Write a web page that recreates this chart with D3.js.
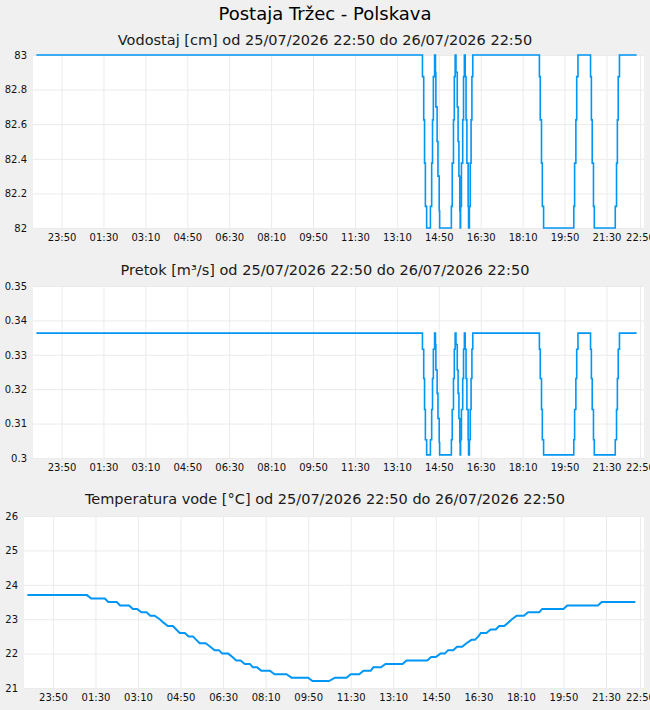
<!DOCTYPE html>
<html>
<head>
<meta charset="utf-8">
<script src="https://cdn.jsdelivr.net/npm/d3@7"></script>
<style>
body { margin: 0; background: #f0f0f0; }
svg { display: block; font-family: "DejaVu Sans", sans-serif; }
</style>
</head>
<body>
<svg width="650" height="710"></svg>
<script>
// x axis ticks (every 100 minutes, last one at the end of the period)
var xTicks = ["25 23:50", "26 01:30", "26 03:10", "26 04:50", "26 06:30", "26 08:10", "26 09:50",
              "26 11:30", "26 13:10", "26 14:50", "26 16:30", "26 18:10", "26 19:50", "26 21:30", "26 22:50"];

var levelTicks = [82, 82.2, 82.4, 82.6, 82.8, 83];
var flowTicks = [0.3, 0.31, 0.32, 0.33, 0.34, 0.35];
var tempTicks = [21, 22, 23, 24, 25, 26];

// water level and flow share the same measurement times (step line)
var stepTimes = ["25 22:50",
  "26 14:11", "26 14:14", "26 14:16", "26 14:18", "26 14:21",
  "26 14:30", "26 14:33", "26 14:35", "26 14:37", "26 14:40",
  "26 14:42", "26 14:43", "26 14:46", "26 14:48", "26 14:51", "26 14:52",
  "26 15:20", "26 15:22", "26 15:25", "26 15:27", "26 15:29",
  "26 15:31", "26 15:34", "26 15:36", "26 15:38", "26 15:40", "26 15:41",
  "26 15:42", "26 15:44", "26 15:47", "26 15:49", "26 15:51",
  "26 15:53", "26 15:55", "26 15:57", "26 16:00", "26 16:01",
  "26 16:03", "26 16:05", "26 16:07", "26 16:09", "26 16:11",
  "26 18:50", "26 18:52", "26 18:55", "26 18:57", "26 19:00",
  "26 20:12", "26 20:14", "26 20:17", "26 20:19", "26 20:22",
  "26 20:52", "26 20:54", "26 20:56", "26 20:59", "26 21:01",
  "26 21:51", "26 21:54", "26 21:56", "26 21:58", "26 22:01",
  "26 22:42"];

var levelValues = [83,
  82.875, 82.625, 82.375, 82.125, 82,
  82.125, 82.375, 82.625, 82.875, 83,
  82.9, 82.7, 82.5, 82.3, 82.1, 82,
  82.125, 82.375, 82.625, 82.875, 83,
  82.9, 82.7, 82.5, 82.3, 82.1, 82,
  82.125, 82.375, 82.625, 82.875, 83,
  82.875, 82.625, 82.375, 82.125, 82,
  82.125, 82.375, 82.625, 82.875, 83,
  82.875, 82.625, 82.375, 82.125, 82,
  82.125, 82.375, 82.625, 82.875, 83,
  82.875, 82.625, 82.375, 82.125, 82,
  82.125, 82.375, 82.625, 82.875, 83,
  83];

var flowValues = [0.3363,
  0.3316, 0.3231, 0.3141, 0.3053, 0.3009,
  0.3053, 0.3141, 0.3231, 0.3316, 0.3363,
  0.333, 0.3256, 0.3188, 0.3115, 0.3045, 0.3009,
  0.3053, 0.3141, 0.3231, 0.3316, 0.3363,
  0.333, 0.3256, 0.3188, 0.3115, 0.3045, 0.3009,
  0.3053, 0.3141, 0.3231, 0.3316, 0.3363,
  0.3316, 0.3231, 0.3141, 0.3053, 0.3009,
  0.3053, 0.3141, 0.3231, 0.3316, 0.3363,
  0.3316, 0.3231, 0.3141, 0.3053, 0.3009,
  0.3053, 0.3141, 0.3231, 0.3316, 0.3363,
  0.3316, 0.3231, 0.3141, 0.3053, 0.3009,
  0.3053, 0.3141, 0.3231, 0.3316, 0.3363,
  0.3363];

// water temperature
var tempTimes = ["25 22:50", "26 01:10", "26 01:20", "26 01:52", "26 02:00", "26 02:20", "26 02:28", "26 02:49",
  "26 02:58", "26 03:08", "26 03:18", "26 03:30", "26 03:39", "26 03:49", "26 04:01", "26 04:10", "26 04:20",
  "26 04:32", "26 04:40", "26 04:48", "26 05:00", "26 05:09", "26 05:19", "26 05:27", "26 05:35", "26 05:49",
  "26 06:00", "26 06:10", "26 06:20", "26 06:28", "26 06:42", "26 06:52", "26 07:01", "26 07:11", "26 07:21",
  "26 07:33", "26 07:40", "26 07:50", "26 08:00", "26 08:20", "26 08:31", "26 08:59", "26 09:11", "26 09:50",
  "26 10:00", "26 10:39", "26 10:53", "26 11:20", "26 11:30", "26 11:50", "26 12:00", "26 12:17", "26 12:23",
  "26 12:41", "26 12:52", "26 13:32", "26 13:41", "26 14:30", "26 14:39", "26 14:50", "26 15:01", "26 15:11",
  "26 15:19", "26 15:31", "26 15:40", "26 15:52", "26 16:02", "26 16:14", "26 16:22", "26 16:30", "26 16:36",
  "26 16:49", "26 16:59", "26 17:11", "26 17:19", "26 17:31", "26 17:40", "26 17:49", "26 18:00", "26 18:17",
  "26 18:27", "26 18:53", "26 19:00", "26 19:50", "26 19:59", "26 21:11", "26 21:20", "26 22:39"];

var tempValues = [23.7, 23.7, 23.6, 23.6, 23.5, 23.5, 23.4, 23.4,
  23.3, 23.3, 23.2, 23.2, 23.1, 23.1, 23.0, 22.9, 22.8,
  22.8, 22.7, 22.6, 22.6, 22.5, 22.5, 22.4, 22.3, 22.3,
  22.2, 22.1, 22.1, 22.0, 22.0, 21.9, 21.8, 21.8, 21.7,
  21.7, 21.6, 21.6, 21.5, 21.5, 21.4, 21.4, 21.3, 21.3,
  21.2, 21.2, 21.3, 21.3, 21.4, 21.4, 21.5, 21.5, 21.6,
  21.6, 21.7, 21.7, 21.8, 21.8, 21.9, 21.9, 22.0, 22.0,
  22.1, 22.1, 22.2, 22.2, 22.3, 22.4, 22.4, 22.5, 22.6,
  22.6, 22.7, 22.7, 22.8, 22.8, 22.9, 23.0, 23.1, 23.1,
  23.2, 23.2, 23.3, 23.3, 23.4, 23.4, 23.5, 23.5];

var svg = d3.select("svg");
var parseTime = d3.timeParse("%d %H:%M");
var startTime = parseTime("25 22:50"),
    endTime = parseTime("26 22:50");
var lineColour = "#0096f5";
var gridColour = "#ebebeb";
var plotRight = 644;

svg.append("text")
    .attr("x", 325).attr("y", 20)
    .attr("text-anchor", "middle")
    .style("font-size", "18px")
    .style("fill", "#000")
    .text("Postaja Tržec - Polskava");

function drawPanel(p) {
    var x = d3.scaleTime().domain([startTime, endTime]).range([p.left + 3.4, 640]);
    var y = d3.scaleLinear().domain([p.ticks[0], p.ticks[p.ticks.length - 1]]).range([p.bottom, p.top]);

    svg.append("text")
        .attr("x", 325).attr("y", p.titleY)
        .attr("text-anchor", "middle")
        .style("font-size", "14.5px")
        .style("fill", "#1a1a1a")
        .text(p.title);

    svg.append("rect")
        .attr("x", p.left).attr("y", p.top)
        .attr("width", plotRight - p.left).attr("height", p.bottom - p.top)
        .attr("fill", "#fff");

    //left axis with gridlines
    var yAxis = svg.append("g")
        .attr("transform", "translate(" + p.left + ",0)")
        .call(d3.axisLeft(y).tickValues(p.ticks)
            .tickSize(-(plotRight - p.left)).tickPadding(6)
            .tickFormat(function (d) { return String(+d.toFixed(3)); }));

    //bottom axis with gridlines
    var xAxis = svg.append("g")
        .attr("transform", "translate(0," + p.bottom + ")")
        .call(d3.axisBottom(x).tickValues(xTicks.map(parseTime))
            .tickSize(-(p.bottom - p.top)).tickPadding(6)
            .tickFormat(d3.timeFormat("%H:%M")));

    [yAxis, xAxis].forEach(function (a) {
        a.select(".domain").remove();
        a.selectAll(".tick line").attr("stroke", gridColour);
        a.selectAll(".tick text")
            .style("font-family", "DejaVu Sans, sans-serif")
            .style("font-size", "10px")
            .attr("fill", "#111");
    });

    var data = p.times.map(function (t, i) { return { t: parseTime(t), v: p.values[i] }; });

    var line = d3.line()
        .x(function (d) { return x(d.t); })
        .y(function (d) { return y(d.v); })
        .curve(p.curve);

    svg.append("path")
        .datum(data)
        .attr("fill", "none")
        .attr("stroke", lineColour)
        .attr("stroke-width", p.width)
        .attr("d", line);
}

drawPanel({ title: "Vodostaj [cm] od 25/07/2026 22:50 do 26/07/2026 22:50", titleY: 45,
    left: 33, top: 55, bottom: 228, ticks: levelTicks,
    times: stepTimes, values: levelValues, curve: d3.curveStepAfter, width: 1.6 });

drawPanel({ title: "Pretok [m³/s] od 25/07/2026 22:50 do 26/07/2026 22:50", titleY: 275,
    left: 33, top: 286, bottom: 458, ticks: flowTicks,
    times: stepTimes, values: flowValues, curve: d3.curveStepAfter, width: 1.6 });

drawPanel({ title: "Temperatura vode [°C] od 25/07/2026 22:50 do 26/07/2026 22:50", titleY: 504,
    left: 24, top: 516, bottom: 688, ticks: tempTicks,
    times: tempTimes, values: tempValues, curve: d3.curveLinear, width: 2 });
</script>
</body>
</html>
